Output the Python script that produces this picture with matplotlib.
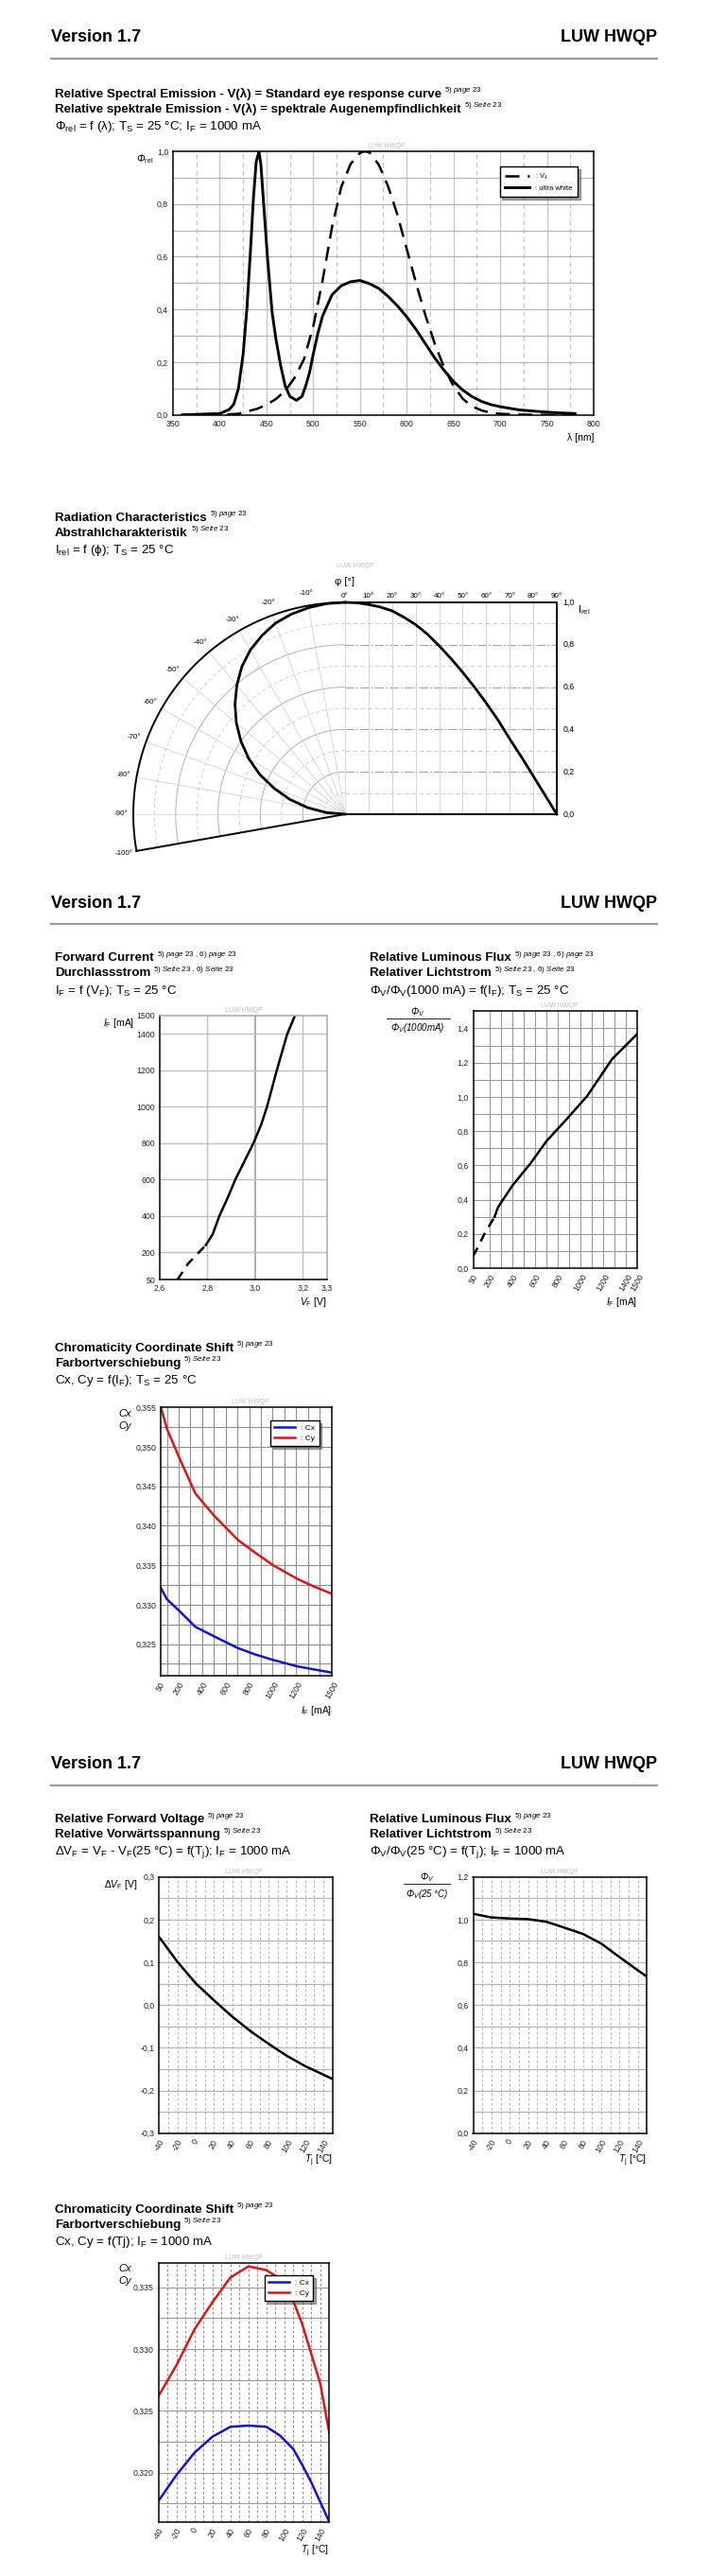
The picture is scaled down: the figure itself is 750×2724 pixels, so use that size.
import numpy as np
import matplotlib
matplotlib.use('Agg')
import matplotlib.pyplot as plt
from matplotlib.lines import Line2D

plt.rcParams['font.family'] = ['Liberation Sans', 'DejaVu Sans']
plt.rcParams['mathtext.fontset'] = 'custom'
plt.rcParams['mathtext.rm'] = 'Liberation Sans'
plt.rcParams['mathtext.it'] = 'Liberation Sans:italic'
plt.rcParams['mathtext.bf'] = 'Liberation Sans:bold'

W, H = 750, 2724

# ---- data ----
# relative spectral emission
wl_uw = [360, 400, 410, 415, 420, 425, 429, 433, 436, 439, 442, 444, 447, 451, 456, 460, 465, 470, 475, 482,
         488, 492, 496, 500, 505, 510, 520, 530, 540, 550, 560, 570, 580, 590, 600, 610, 620, 630, 640, 650,
         660, 670, 680, 690, 700, 720, 740, 760, 780]
ultra_white = [0.0, 0.005, 0.02, 0.04, 0.1, 0.23, 0.4, 0.63, 0.82, 0.96, 1.0, 0.95, 0.8, 0.6, 0.39, 0.29, 0.19, 0.11, 0.07, 0.055,
               0.07, 0.11, 0.16, 0.23, 0.31, 0.375, 0.455, 0.49, 0.505, 0.51, 0.498, 0.48, 0.45, 0.414, 0.372, 0.324, 0.27, 0.216, 0.169, 0.127,
               0.094, 0.069, 0.051, 0.039, 0.031, 0.019, 0.013, 0.008, 0.005]
wl_v = [360, 400, 420, 440, 450, 460, 470, 480, 490, 500, 510, 520, 530, 540, 550, 555, 560, 570, 580, 590,
        600, 610, 620, 630, 640, 650, 660, 670, 680, 690, 700, 720, 750, 780]
v_lambda = [0.0, 0.0004, 0.004, 0.023, 0.038, 0.06, 0.091, 0.14, 0.21, 0.335, 0.51, 0.71, 0.865, 0.952, 0.994, 1.0, 0.996, 0.95, 0.868, 0.76,
            0.63, 0.5, 0.378, 0.27, 0.18, 0.109, 0.061, 0.032, 0.017, 0.008, 0.004, 0.001, 0.0, 0.0]

# radiation characteristics
rad_angle = [0, 5, 10, 15, 20, 25, 30, 35, 40, 45, 50, 55, 60, 65, 70, 75, 80, 85, 90]
rad_int = [1.0, 0.998, 0.99, 0.978, 0.96, 0.93, 0.895, 0.85, 0.795, 0.735, 0.67, 0.6, 0.525, 0.445, 0.355, 0.27, 0.18, 0.09, 0.0]

# forward current
vf = [2.674, 2.718, 2.793, 2.822, 2.85, 2.885, 2.917, 2.955, 2.993, 3.025, 3.05, 3.091, 3.135, 3.167]
if_vf = [50, 137, 240, 300, 400, 500, 600, 700, 800, 900, 1000, 1200, 1400, 1500]

# relative flux vs current
if_flux = [50, 90, 150, 240, 270, 400, 560, 700, 880, 1060, 1280, 1500]
flux_if = [0.07, 0.12, 0.20, 0.30, 0.355, 0.484, 0.613, 0.742, 0.871, 1.005, 1.22, 1.365]

# chromaticity vs current
if_c = [50, 100, 200, 342, 500, 704, 850, 1004, 1205, 1350, 1500]
cx_if = [0.3321, 0.3307, 0.3293, 0.3272, 0.3260, 0.3245, 0.3237, 0.3230, 0.3222, 0.3218, 0.3214]
cy_if = [0.355, 0.3523, 0.3488, 0.3441, 0.3413, 0.3382, 0.3366, 0.3350, 0.3333, 0.3323, 0.3314]

# forward voltage / flux vs temperature
tj = [-40, -20, 0, 20, 40, 60, 80, 100, 120, 140, 150]
dvf = [0.159, 0.101, 0.051, 0.011, -0.027, -0.061, -0.091, -0.119, -0.143, -0.163, -0.173]
flux_tj = [1.027, 1.01, 1.005, 1.002, 0.99, 0.962, 0.933, 0.888, 0.825, 0.763, 0.733]

# chromaticity vs temperature
tj_c = [-40, -20, 0, 20, 40, 60, 80, 95, 110, 120, 130, 140, 150]
cx_tj = [0.3177, 0.3198, 0.3216, 0.3229, 0.3237, 0.3238, 0.3237, 0.3230, 0.3219, 0.3206, 0.3192, 0.3176, 0.3160]
cy_tj = [0.3262, 0.3287, 0.3316, 0.3338, 0.3358, 0.3367, 0.3364, 0.3357, 0.3339, 0.3320, 0.3296, 0.3272, 0.3232]

fig = plt.figure(figsize=(W / 100, H / 100), dpi=100)
renderer = fig.canvas.get_renderer()


def px_axes(l, t, r, b):
    return fig.add_axes([l / W, 1 - b / H, (r - l) / W, (b - t) / H])


def ftext(x, y, s, **kw):
    return fig.text(x / W, 1 - y / H, s, **kw)


def header(yt, yl):
    ftext(54, yt, 'Version 1.7', fontsize=13, fontweight='bold', va='center')
    ftext(695, yt, 'LUW HWQP', fontsize=13, fontweight='bold', va='center', ha='right')
    fig.add_artist(Line2D([54 / W, 695 / W], [1 - yl / H] * 2, color='#9a9a9a', lw=1.6))


def title(x, y, l1, s1, l2, s2, formula):
    for yy, txt, sup in [(y, l1, s1), (y + 16, l2, s2)]:
        t = ftext(x, yy, txt, fontsize=9.6, fontweight='bold', va='center')
        bb = t.get_window_extent(renderer)
        fig.text((bb.x1 + 3) / W, 1 - (yy - 4) / H, sup, fontsize=5.8, va='center')
    ftext(x, y + 34.5, formula, fontsize=9.6, va='center')


def watermark(x, y):
    ftext(x, y, 'LUW HWQP', fontsize=5, color='#bdbdbd', ha='center', va='center')


def comma(fmt):
    return lambda v: (fmt % v).replace('.', ',')


def style(ax, xlim, ylim, xt, yt, xf, yf, rot=0):
    ax.set_xlim(xlim)
    ax.set_ylim(ylim)
    ax.set_xticks(xt)
    ax.set_yticks(yt)
    ax.set_xticklabels([xf(v) for v in xt], rotation=rot, ha='center', va='top')
    ax.set_yticklabels([yf(v) for v in yt])
    ax.tick_params(length=0, labelsize=6.3, labelcolor='#222222', pad=3.5)
    for s in ax.spines.values():
        s.set_linewidth(1.1)
        s.set_zorder(4)


def vgrid(ax, vals, **kw):
    for v in vals:
        ax.axvline(v, zorder=0, **kw)


def hgrid(ax, vals, **kw):
    for v in vals:
        ax.axhline(v, zorder=0, **kw)


sup_p = '5) $\\mathit{page\\ 23}$'
sup_s = '5) $\\mathit{Seite\\ 23}$'
sup_p2 = '5) $\\mathit{page\\ 23}$ , 6) $\\mathit{page\\ 23}$'
sup_s2 = '5) $\\mathit{Seite\\ 23}$ , 6) $\\mathit{Seite\\ 23}$'

# ================= page 1 =================
header(40, 62.3)
title(58, 99.3, 'Relative Spectral Emission - V(\u03bb) = Standard eye response curve', sup_p,
      'Relative spektrale Emission - V(\u03bb) = spektrale Augenempfindlichkeit', sup_s,
      '\u03a6$_{\\rm rel}$ = f (\u03bb); T$_{\\rm S}$ = 25 \u00b0C; I$_{\\rm F}$ = 1000 mA')

ax = px_axes(183, 160, 628, 438.7)
style(ax, (350, 800), (0, 1.0), list(range(350, 801, 50)), [0, 0.2, 0.4, 0.6, 0.8, 1.0],
      lambda v: '%d' % v, comma('%.1f'))
vgrid(ax, range(400, 800, 50), color='#c4c4c4', lw=0.9)
vgrid(ax, range(375, 800, 50), color='#c4c4c4', lw=0.9, dashes=(4, 3))
hgrid(ax, np.arange(0.1, 0.95, 0.1), color='#b4b4b4', lw=0.9)
ax.plot(wl_v, v_lambda, color='black', lw=1.8, dashes=(6, 3.5), label=': V$_{\\lambda}$')
ax.plot(wl_uw, ultra_white, color='black', lw=2.1, label=': ultra white')
leg = ax.legend(loc='upper right', bbox_to_anchor=(0.97, 0.956), fontsize=5.5, handlelength=3.4,
                fancybox=False, shadow=True, framealpha=1, edgecolor='black', borderpad=0.7)
leg.get_frame().set_linewidth(1.0)
watermark(409, 155)
ftext(153, 168, '\u03a6$_{\\rm rel}$', fontsize=7.5, style='italic', ha='center', va='center')
ftext(628, 462.7, '\u03bb [nm]', fontsize=7.5, ha='right', va='center')

# radiation characteristics
title(58, 547.7, 'Radiation Characteristics', sup_p, 'Abstrahlcharakteristik', sup_s,
      'I$_{\\rm rel}$ = f (\u03d5); T$_{\\rm S}$ = 25 \u00b0C')
R = 224
cx0, cy0 = 365, 861
axp = px_axes(cx0 - 1.15 * R, cy0 - 1.22 * R, cx0 + 1.25 * R, cy0 + 0.25 * R)
axp.set_xlim(-1.15, 1.25)
axp.set_ylim(-0.25, 1.22)
axp.axis('off')
arc = np.radians(np.linspace(0, -100, 300))
for k in range(1, 10):
    r = k / 10
    if k % 2 == 0:
        axp.plot(r * np.sin(arc), r * np.cos(arc), color='#b0b0b0', lw=0.7, zorder=1)
        axp.plot([0, 1], [r, r], color='#a0a0a0', lw=0.7, dashes=(10, 2, 2, 2), zorder=1)
    else:
        axp.plot(r * np.sin(arc), r * np.cos(arc), color='#cfcfcf', lw=0.7, dashes=(4, 3), zorder=1)
        axp.plot([0, 1], [r, r], color='#cfcfcf', lw=0.7, dashes=(5, 3), zorder=1)
for a in range(0, 91, 10):
    t = np.radians(-a)
    axp.plot([0, np.sin(t)], [0, np.cos(t)], color='#d2d2d2', lw=0.6, zorder=1)
    if 0 < a < 90:
        axp.plot([a / 90, a / 90], [0, 1], color='#d2d2d2', lw=0.7, zorder=1)
axp.plot(np.sin(arc), np.cos(arc), color='black', lw=1.4, zorder=3)
axp.plot([np.sin(arc[-1]), 0, 1, 1, 0], [np.cos(arc[-1]), 0, 0, 1, 1], color='black', lw=1.4, zorder=3)

th = np.radians(rad_angle)
ri = np.array(rad_int)
axp.plot(-ri * np.sin(th), ri * np.cos(th), color='black', lw=2.0, zorder=4)
axp.plot(np.array(rad_angle) / 90, ri, color='black', lw=2.0, zorder=4)

for a in range(0, 91, 10):
    axp.text(a / 90, 1.03, '%d\u00b0' % a, fontsize=5.8, ha='center', va='center')
for a in range(10, 101, 10):
    t = np.radians(-a)
    axp.text(1.06 * np.sin(t), 1.06 * np.cos(t), '-%d\u00b0' % a, fontsize=5.8, ha='center', va='center')
for v in [0, 0.2, 0.4, 0.6, 0.8, 1.0]:
    axp.text(1.03, v, comma('%.1f')(v), fontsize=6.3, ha='left', va='center')
axp.text(1.10, 0.964, 'I$_{\\rm rel}$', fontsize=8, ha='left', va='center')
axp.text(0, 1.098, '\u03c6 [\u00b0]', fontsize=8, ha='center', va='center')
axp.text(0.05, 1.17, 'LUW HWQP', fontsize=5, color='#bdbdbd', ha='center', va='center')

# ================= page 2 =================
header(955, 976.7)
title(58, 1013.3, 'Forward Current', sup_p2, 'Durchlassstrom', sup_s2,
      'I$_{\\rm F}$ = f (V$_{\\rm F}$); T$_{\\rm S}$ = 25 \u00b0C')
title(391, 1013.3, 'Relative Luminous Flux', sup_p2, 'Relativer Lichtstrom', sup_s2,
      '\u03a6$_{\\rm V}$/\u03a6$_{\\rm V}$(1000 mA) = f(I$_{\\rm F}$); T$_{\\rm S}$ = 25 \u00b0C')

ax = px_axes(169, 1074, 345.5, 1353.3)
style(ax, (2.6, 3.3), (50, 1500), [2.6, 2.8, 3.0, 3.2, 3.3], [50, 200, 400, 600, 800, 1000, 1200, 1400, 1500],
      comma('%.1f'), lambda v: '%d' % v)
vgrid(ax, [2.8, 3.2], color='#c0c0c0', lw=1.0)
vgrid(ax, [3.0], color='#a0a0a0', lw=1.2)
hgrid(ax, range(200, 1500, 200), color='#c0c0c0', lw=1.0)
ax.spines['top'].set_color('#a8a8a8')
ax.spines['right'].set_color('#a8a8a8')
ax.plot(vf[:3], if_vf[:3], color='black', lw=1.8, dashes=(4, 3))
ax.plot(vf[2:], if_vf[2:], color='black', lw=1.8)
watermark(258, 1069)
ftext(142, 1081.7, '$I_{\\rm F}$ [mA]', fontsize=7.5, ha='right', va='center')
ftext(345.5, 1376.7, '$V_{\\rm F}$ [V]', fontsize=7.5, ha='right', va='center')

ax = px_axes(500.5, 1069.3, 673.7, 1341)
style(ax, (50, 1500), (0, 1.5), [50, 200, 400, 600, 800, 1000, 1200, 1400, 1500], [0, 0.2, 0.4, 0.6, 0.8, 1.0, 1.2, 1.4],
      lambda v: '%d' % v, comma('%.1f'), rot=60)
vgrid(ax, range(200, 1500, 100), color='#9a9a9a', lw=0.8)
hgrid(ax, np.arange(0.1, 1.45, 0.1), color='#9a9a9a', lw=0.8)
ax.plot(if_flux[:4], flux_if[:4], color='black', lw=1.8, dashes=(4, 3))
ax.plot(if_flux[3:], flux_if[3:], color='black', lw=1.8)
watermark(592, 1064)
ftext(442, 1070, '\u03a6$_{V}$', fontsize=7, style='italic', ha='center', va='center')
fig.add_artist(Line2D([409 / W, 476 / W], [1 - 1076.7 / H] * 2, color='black', lw=0.6))
ftext(442, 1086.7, '\u03a6$_{V}$(1000mA)', fontsize=7, style='italic', ha='center', va='center')
ftext(673.7, 1376.7, '$I_{\\rm F}$ [mA]', fontsize=7.5, ha='right', va='center')

# chromaticity vs current
title(58, 1425.5, 'Chromaticity Coordinate Shift', sup_p, 'Farbortverschiebung', sup_s,
      'Cx, Cy = f(I$_{\\rm F}$); T$_{\\rm S}$ = 25 \u00b0C')
ax = px_axes(170.3, 1488.3, 350.7, 1772)
style(ax, (50, 1500), (0.321, 0.355), [50, 200, 400, 600, 800, 1000, 1200, 1500],
      [0.325, 0.330, 0.335, 0.340, 0.345, 0.350, 0.355], lambda v: '%d' % v, comma('%.3f'), rot=60)
vgrid(ax, range(100, 1500, 100), color='#8e8e8e', lw=0.8)
hgrid(ax, np.arange(0.3225, 0.3549, 0.0025), color='#8e8e8e', lw=0.8)
ax.plot(if_c, cx_if, color='#1414c8', lw=1.8, label=': Cx')
ax.plot(if_c, cy_if, color='#d81818', lw=1.8, label=': Cy')
leg = ax.legend(loc='upper right', bbox_to_anchor=(0.95, 0.966), fontsize=6, handlelength=2.6,
                fancybox=False, shadow=True, framealpha=1, edgecolor='black', borderpad=0.5, labelspacing=0.4)
leg.get_frame().set_linewidth(1.0)
watermark(265, 1483)
ftext(132.7, 1495, 'Cx', fontsize=8, style='italic', ha='center', va='center')
ftext(132.7, 1508, 'Cy', fontsize=8, style='italic', ha='center', va='center')
ftext(350.7, 1809, '$I_{\\rm F}$ [mA]', fontsize=7.5, ha='right', va='center')

# ================= page 3 =================
header(1865, 1887.7)
title(58, 1924, 'Relative Forward Voltage', sup_p, 'Relative Vorw\u00e4rtsspannung', sup_s,
      '\u0394V$_{\\rm F}$ = V$_{\\rm F}$ - V$_{\\rm F}$(25 \u00b0C) = f(T$_{\\rm j}$); I$_{\\rm F}$ = 1000 mA')
title(391, 1924, 'Relative Luminous Flux', sup_p, 'Relativer Lichtstrom', sup_s,
      '\u03a6$_{\\rm V}$/\u03a6$_{\\rm V}$(25 \u00b0C) = f(T$_{\\rm j}$); I$_{\\rm F}$ = 1000 mA')

ax = px_axes(168.4, 1984.7, 351.7, 2255.7)
style(ax, (-40, 150), (-0.3, 0.3), list(range(-40, 141, 20)), [-0.3, -0.2, -0.1, 0.0, 0.1, 0.2, 0.3],
      lambda v: '%d' % v, comma('%.1f'), rot=60)
vgrid(ax, range(-30, 150, 10), color='#b4b4b4', lw=0.8, dashes=(2.5, 2))
hgrid(ax, np.arange(-0.25, 0.26, 0.05), color='#b4b4b4', lw=0.9)
ax.plot(tj, dvf, color='black', lw=1.8)
watermark(258, 1979.3)
ftext(145, 1992.7, '$\\Delta V_{\\rm F}$ [V]', fontsize=7.5, ha='right', va='center')
ftext(351.7, 2285, '$T_{\\rm j}$ [\u00b0C]', fontsize=7.5, ha='right', va='center')

ax = px_axes(500.5, 1984.7, 684.2, 2255.7)
style(ax, (-40, 150), (0, 1.2), list(range(-40, 141, 20)), [0, 0.2, 0.4, 0.6, 0.8, 1.0, 1.2],
      lambda v: '%d' % v, comma('%.1f'), rot=60)
vgrid(ax, range(-30, 150, 10), color='#b4b4b4', lw=0.8, dashes=(2.5, 2))
hgrid(ax, np.arange(0.1, 1.15, 0.1), color='#b4b4b4', lw=0.9)
ax.plot(tj, flux_tj, color='black', lw=1.8)
watermark(592, 1979.3)
ftext(452, 1985, '\u03a6$_{V}$', fontsize=7, style='italic', ha='center', va='center')
fig.add_artist(Line2D([427 / W, 476 / W], [1 - 1991.7 / H] * 2, color='black', lw=0.6))
ftext(452, 2002.7, '\u03a6$_{V}$(25 \u00b0C)', fontsize=7, style='italic', ha='center', va='center')
ftext(684.2, 2285, '$T_{\\rm j}$ [\u00b0C]', fontsize=7.5, ha='right', va='center')

# chromaticity vs temperature
title(58, 2336.7, 'Chromaticity Coordinate Shift', sup_p, 'Farbortverschiebung', sup_s,
      'Cx, Cy = f(Tj); I$_{\\rm F}$ = 1000 mA')
ax = px_axes(167.7, 2392.7, 348.3, 2666.7)
style(ax, (-40, 150), (0.316, 0.337), list(range(-40, 141, 20)), [0.320, 0.325, 0.330, 0.335],
      lambda v: '%d' % v, comma('%.3f'), rot=60)
vgrid(ax, range(-30, 150, 10), color='#909090', lw=0.8, dashes=(2.5, 2))
hgrid(ax, np.arange(0.3175, 0.3369, 0.0025), color='#9a9a9a', lw=0.8)
ax.plot(tj_c, cx_tj, color='#1414c8', lw=1.8, label=': Cx')
ax.plot(tj_c, cy_tj, color='#d81818', lw=1.8, label=': Cy')
leg = ax.legend(loc='upper right', bbox_to_anchor=(0.93, 0.967), fontsize=6, handlelength=2.6,
                fancybox=False, shadow=True, framealpha=1, edgecolor='black', borderpad=0.5, labelspacing=0.4)
leg.get_frame().set_linewidth(1.0)
watermark(258, 2387.5)
ftext(132, 2399, 'Cx', fontsize=8, style='italic', ha='center', va='center')
ftext(132, 2411.7, 'Cy', fontsize=8, style='italic', ha='center', va='center')
ftext(348.3, 2698, '$T_{\\rm j}$ [\u00b0C]', fontsize=7.5, ha='right', va='center')

fig.savefig('out.png', dpi=100, facecolor='white')
